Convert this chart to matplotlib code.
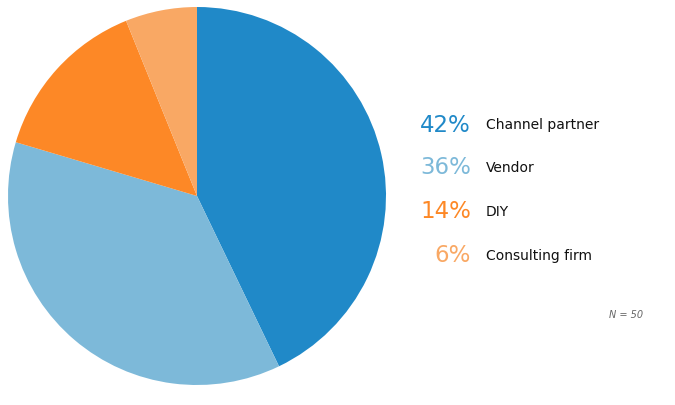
import numpy as np
import matplotlib
matplotlib.use('Agg')
import matplotlib.pyplot as plt

# survey answers, share in percent (N = 50)
labels = ['Channel partner', 'Vendor', 'DIY', 'Consulting firm']
shares = [42, 36, 14, 6]
colors = ['#2089c8', '#7db9d9', '#fd8826', '#f9a864']
n_total = 50

W, H = 675, 406
fig = plt.figure(figsize=(W / 100., H / 100.), dpi=100)

# pie sits at centre (197,197) px with radius 189 px
cx, cy, r = 197, 197, 189
ax = fig.add_axes([(cx - r) / W, (H - cy - r) / H, 2 * r / W, 2 * r / H])
ax.pie(shares, colors=colors, startangle=90, counterclock=False,
       wedgeprops=dict(linewidth=0))
ax.set_xlim(-1, 1)
ax.set_ylim(-1, 1)
ax.set_aspect('equal')
ax.axis('off')

# legend-ish labels on the right
rows_y = [125, 168, 212, 256]
for lab, val, col, y in zip(labels, shares, colors, rows_y):
    fig.text(471 / W, 1 - y / H, '%d%%' % val, color=col, fontsize=16.5,
             ha='right', va='center')
    fig.text(486 / W, 1 - y / H, lab, color='#111111', fontsize=10,
             ha='left', va='center')

fig.text(643 / W, 1 - 315 / H, 'N = %d' % n_total, color='#666666',
         fontsize=7, style='italic', ha='right', va='center')

fig.savefig('out.png', dpi=100)
